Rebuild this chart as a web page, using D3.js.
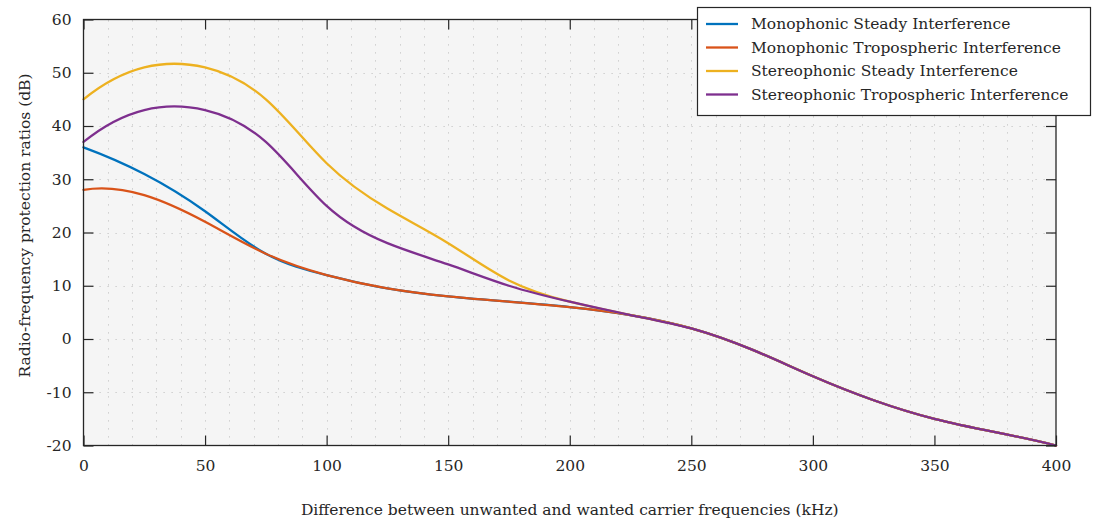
<!DOCTYPE html>
<html>
<head>
<meta charset="utf-8">
<script src="https://cdn.jsdelivr.net/npm/d3@7"></script>
<style>
  html, body { margin: 0; padding: 0; background: #ffffff; }
  svg { display: block; }
  text { font-family: "DejaVu Serif", "Liberation Serif", serif; fill: #262626; }
</style>
</head>
<body>
<svg id="chart" width="1093" height="525"></svg>
<script>
// Frequency offsets (kHz) at which protection ratios are tabulated
const freqs = [0, 25, 50, 75, 100, 125, 150, 175, 200, 225, 250, 275, 300, 325, 350, 375, 400];

// Protection ratios (dB)
const monoSteady  = [36, 31, 24, 16, 12, 9.5, 8, 7, 6, 4.5, 2, -2, -7, -11.5, -15, -17.5, -20];
const monoTropo   = [28, 27, 22, 16, 12, 9.5, 8, 7, 6, 4.5, 2, -2, -7, -11.5, -15, -17.5, -20];
const stereoSteady = [45, 51, 51, 45, 33, 24.5, 18, 11, 7, 4.5, 2, -2, -7, -11.5, -15, -17.5, -20];
const stereoTropo  = [37, 43, 43, 37, 25, 18, 14, 10, 7, 4.5, 2, -2, -7, -11.5, -15, -17.5, -20];

const seriesNames = [
  "Monophonic Steady Interference",
  "Monophonic Tropospheric Interference",
  "Stereophonic Steady Interference",
  "Stereophonic Tropospheric Interference"
];
const seriesValues = [monoSteady, monoTropo, stereoSteady, stereoTropo];
const seriesColors = ["#0072BD", "#D95319", "#EDB120", "#7E2F8E"];

const xTicks = [0, 50, 100, 150, 200, 250, 300, 350, 400];
const yTicks = [-20, -10, 0, 10, 20, 30, 40, 50, 60];
const xGridStep = 10;

const xLabel = "Difference between unwanted and wanted carrier frequencies (kHz)";
const yLabel = "Radio-frequency protection ratios (dB)";

// Cubic spline with not-a-knot end conditions, emitted as Bezier segments
function NotAKnot(context) { this._context = context; }
NotAKnot.prototype = {
  areaStart() { this._line = 0; },
  areaEnd() { this._line = NaN; },
  lineStart() { this._x = []; this._y = []; },
  point(x, y) { this._x.push(+x); this._y.push(+y); },
  lineEnd() {
    const X = this._x, Y = this._y, n = X.length, ctx = this._context;
    if (!n) return;
    ctx.moveTo(X[0], Y[0]);
    if (n < 4) { for (let i = 1; i < n; i++) ctx.lineTo(X[i], Y[i]); return; }
    const h = [];
    for (let i = 0; i < n - 1; i++) h.push(X[i + 1] - X[i]);
    // Linear system for the second derivatives M
    const A = Array.from({length: n}, () => new Array(n).fill(0));
    const b = new Array(n).fill(0);
    A[0][0] = h[1]; A[0][1] = -(h[0] + h[1]); A[0][2] = h[0];
    for (let i = 1; i < n - 1; i++) {
      A[i][i - 1] = h[i - 1];
      A[i][i] = 2 * (h[i - 1] + h[i]);
      A[i][i + 1] = h[i];
      b[i] = 6 * ((Y[i + 1] - Y[i]) / h[i] - (Y[i] - Y[i - 1]) / h[i - 1]);
    }
    A[n - 1][n - 3] = h[n - 2]; A[n - 1][n - 2] = -(h[n - 3] + h[n - 2]); A[n - 1][n - 1] = h[n - 3];
    // Gaussian elimination with partial pivoting
    for (let c = 0; c < n; c++) {
      let p = c;
      for (let r = c + 1; r < n; r++) if (Math.abs(A[r][c]) > Math.abs(A[p][c])) p = r;
      [A[c], A[p]] = [A[p], A[c]]; [b[c], b[p]] = [b[p], b[c]];
      for (let r = c + 1; r < n; r++) {
        const f = A[r][c] / A[c][c];
        if (!f) continue;
        for (let k = c; k < n; k++) A[r][k] -= f * A[c][k];
        b[r] -= f * b[c];
      }
    }
    const M = new Array(n).fill(0);
    for (let r = n - 1; r >= 0; r--) {
      let s = b[r];
      for (let k = r + 1; k < n; k++) s -= A[r][k] * M[k];
      M[r] = s / A[r][r];
    }
    for (let i = 0; i < n - 1; i++) {
      const hi = h[i], d = (Y[i + 1] - Y[i]) / hi;
      const s0 = d - hi * (2 * M[i] + M[i + 1]) / 6;
      const s1 = d + hi * (M[i] + 2 * M[i + 1]) / 6;
      ctx.bezierCurveTo(X[i] + hi / 3, Y[i] + s0 * hi / 3,
                        X[i + 1] - hi / 3, Y[i + 1] - s1 * hi / 3,
                        X[i + 1], Y[i + 1]);
    }
  }
};
const curveNotAKnot = ctx => new NotAKnot(ctx);

const svg = d3.select("#chart");
const margin = {left: 83.5, right: 1056, top: 19.5, bottom: 445.5};

const x = d3.scaleLinear().domain([0, 400]).range([margin.left, margin.right]);
const y = d3.scaleLinear().domain([-20, 60]).range([margin.bottom, margin.top]);

// Plot background
svg.append("rect")
  .attr("x", margin.left).attr("y", margin.top)
  .attr("width", margin.right - margin.left).attr("height", margin.bottom - margin.top)
  .attr("fill", "#f5f5f5");

// Dotted grid
const grid = svg.append("g").attr("stroke", "#c4c4c4").attr("stroke-width", 1)
  .attr("stroke-dasharray", "1.2,6.8");
grid.selectAll("line.v").data(d3.range(xGridStep, 400, xGridStep)).join("line")
  .attr("class", "v")
  .attr("x1", d => Math.round(x(d)) + 0.5).attr("x2", d => Math.round(x(d)) + 0.5)
  .attr("y1", margin.bottom).attr("y2", margin.top);
grid.selectAll("line.h").data(yTicks.slice(1, -1)).join("line")
  .attr("class", "h")
  .attr("y1", d => Math.round(y(d)) + 0.5).attr("y2", d => Math.round(y(d)) + 0.5)
  .attr("x1", margin.left).attr("x2", margin.right);

// Curves
const line = d3.line()
  .x((d, i) => x(freqs[i]))
  .y(d => y(d))
  .curve(curveNotAKnot);

const plot = svg.append("g");
seriesValues.forEach((vals, k) => {
  plot.append("path")
    .attr("d", line(vals))
    .attr("fill", "none")
    .attr("stroke", seriesColors[k])
    .attr("stroke-width", 2.3)
    .attr("stroke-linejoin", "round")
    .attr("stroke-linecap", "round");
});

// Axes with inward ticks on all four sides
const axisColor = "#262626";
const tickLen = 10;
const fontSize = 15.5;
const plain = d => String(d);

const bottomAxis = d3.axisBottom(x).tickValues(xTicks).tickFormat(plain).tickSizeInner(-tickLen).tickSizeOuter(0).tickPadding(14);
const topAxis = d3.axisTop(x).tickValues(xTicks).tickSizeInner(-tickLen).tickSizeOuter(0).tickFormat("");
const leftAxis = d3.axisLeft(y).tickValues(yTicks).tickFormat(plain).tickSizeInner(-tickLen).tickSizeOuter(0).tickPadding(12);
const rightAxis = d3.axisRight(y).tickValues(yTicks).tickSizeInner(-tickLen).tickSizeOuter(0).tickFormat("");

function style(g) {
  g.select(".domain").remove();
  g.selectAll(".tick line").attr("stroke", axisColor).attr("stroke-width", 1.2);
  g.selectAll(".tick text").attr("fill", axisColor)
    .style("font-family", '"DejaVu Serif", serif').style("font-size", fontSize + "px");
}

svg.append("g").attr("transform", `translate(0,${margin.bottom})`).call(bottomAxis).call(style);
svg.append("g").attr("transform", `translate(0,${margin.top})`).call(topAxis).call(style);
svg.append("g").attr("transform", `translate(${margin.left},0)`).call(leftAxis).call(style);
svg.append("g").attr("transform", `translate(${margin.right},0)`).call(rightAxis).call(style);

// Frame
svg.append("rect")
  .attr("x", margin.left).attr("y", margin.top)
  .attr("width", margin.right - margin.left).attr("height", margin.bottom - margin.top)
  .attr("fill", "none").attr("stroke", axisColor).attr("stroke-width", 1.3);

// Axis titles
svg.append("text")
  .attr("x", (margin.left + margin.right) / 2).attr("y", 515)
  .attr("text-anchor", "middle")
  .style("font-size", fontSize + "px")
  .text(xLabel);

svg.append("text")
  .attr("transform", "translate(30,225.5) rotate(-90)")
  .attr("text-anchor", "middle")
  .style("font-size", fontSize + "px")
  .text(yLabel);

// Legend
const legend = svg.append("g");
legend.append("rect")
  .attr("x", 697.5).attr("y", 7.5).attr("width", 393).attr("height", 108)
  .attr("fill", "#ffffff").attr("stroke", axisColor).attr("stroke-width", 1.2);
seriesNames.forEach((name, k) => {
  const ly = 24 + k * 23.5;
  legend.append("line")
    .attr("x1", 706).attr("x2", 738).attr("y1", ly).attr("y2", ly)
    .attr("stroke", seriesColors[k]).attr("stroke-width", 2.3);
  legend.append("text")
    .attr("x", 751).attr("y", ly).attr("dy", "0.35em")
    .style("font-size", fontSize + "px")
    .text(name);
});
</script>
</body>
</html>
